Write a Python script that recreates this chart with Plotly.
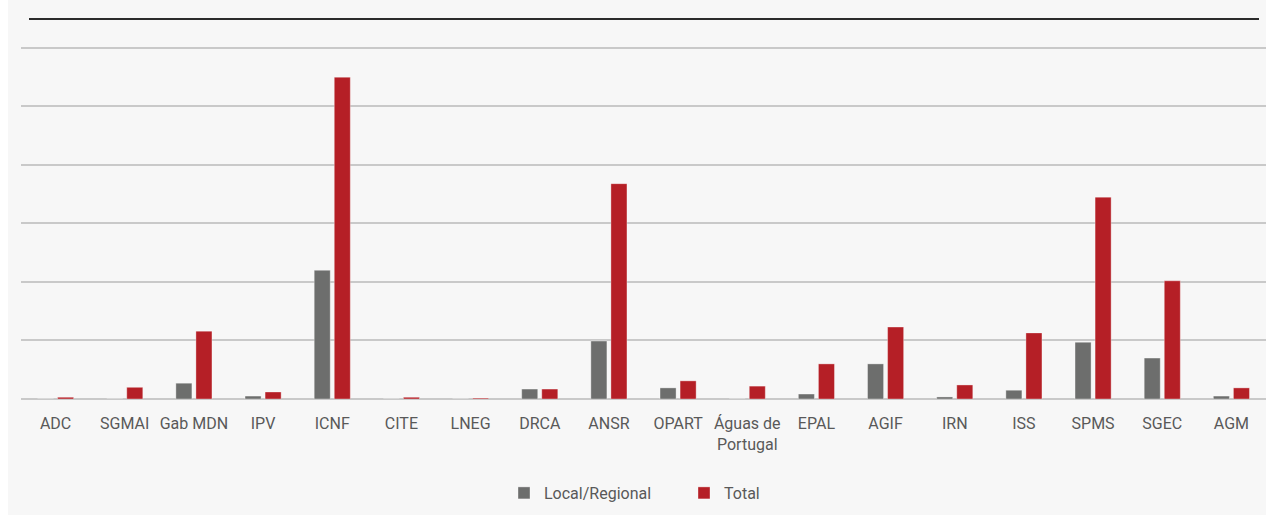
import plotly.graph_objects as go

categories = ["ADC", "SGMAI", "Gab MDN", "IPV", "ICNF", "CITE", "LNEG", "DRCA", "ANSR",
              "OPART", "Águas de<br>Portugal", "EPAL", "AGIF", "IRN", "ISS", "SPMS", "SGEC", "AGM"]
local_regional = [0, 0, 0.27, 0.05, 2.2, 0, 0, 0.17, 0.99, 0.19, 0, 0.085, 0.6, 0.035, 0.15, 0.97, 0.7, 0.05]
total = [0.03, 0.2, 1.16, 0.12, 5.5, 0.03, 0.015, 0.17, 3.68, 0.31, 0.22, 0.6, 1.23, 0.24, 1.13, 3.45, 2.02, 0.19]

GREY = "#6d6e6d"
RED = "#b51f26"
BG = "#f7f7f7"
FONT = "Roboto, sans-serif"

fig = go.Figure()
fig.add_trace(go.Bar(x=categories, y=local_regional, name="Local/Regional",
                     marker=dict(color=GREY, line=dict(color="rgba(255,255,255,0.35)", width=1))))
fig.add_trace(go.Bar(x=categories, y=total, name="Total",
                     marker=dict(color=RED, line=dict(color="rgba(255,255,255,0.35)", width=1))))

W, H = 1258, 515
L, R, T, B = 13, 0, 45, 116
pw, ph = W - L - R, H - T - B

fig.update_layout(
    width=W, height=H,
    margin=dict(l=L, r=R, t=T, b=B, pad=0),
    paper_bgcolor=BG, plot_bgcolor=BG,
    barmode="group", bargap=0.42, bargroupgap=0.2,
    font=dict(family=FONT, size=16, color="#595959"),
    showlegend=True,
    legend=dict(orientation="h", x=(496 - L) / pw, xanchor="left", y=(399 - 493) / ph, yanchor="middle",
                font=dict(size=16, color="#595959"), bgcolor="rgba(0,0,0,0)",
                entrywidth=135, entrywidthmode="pixels", itemwidth=30),
    xaxis=dict(showgrid=False, showline=False, ticks="", ticklabelstandoff=13,
               tickfont=dict(size=16, color="#595959")),
    yaxis=dict(range=[0, 6.05], tickvals=[0, 1, 2, 3, 4, 5, 6], showticklabels=False, showgrid=True,
               gridcolor="#c9c9c9", gridwidth=1.5, zeroline=True, zerolinecolor="#c9c9c9",
               zerolinewidth=2, showline=False),
    shapes=[
        dict(type="line", xref="paper", yref="paper", x0=(21 - L) / pw, x1=(1251 - L) / pw,
             y0=1 + (T - 19) / ph, y1=1 + (T - 19) / ph, line=dict(color="#2b2b2b", width=2)),
    ],
)

fig.write_html("out.html", post_script="document.body.style.margin='0px 0px 0px 8px';")
